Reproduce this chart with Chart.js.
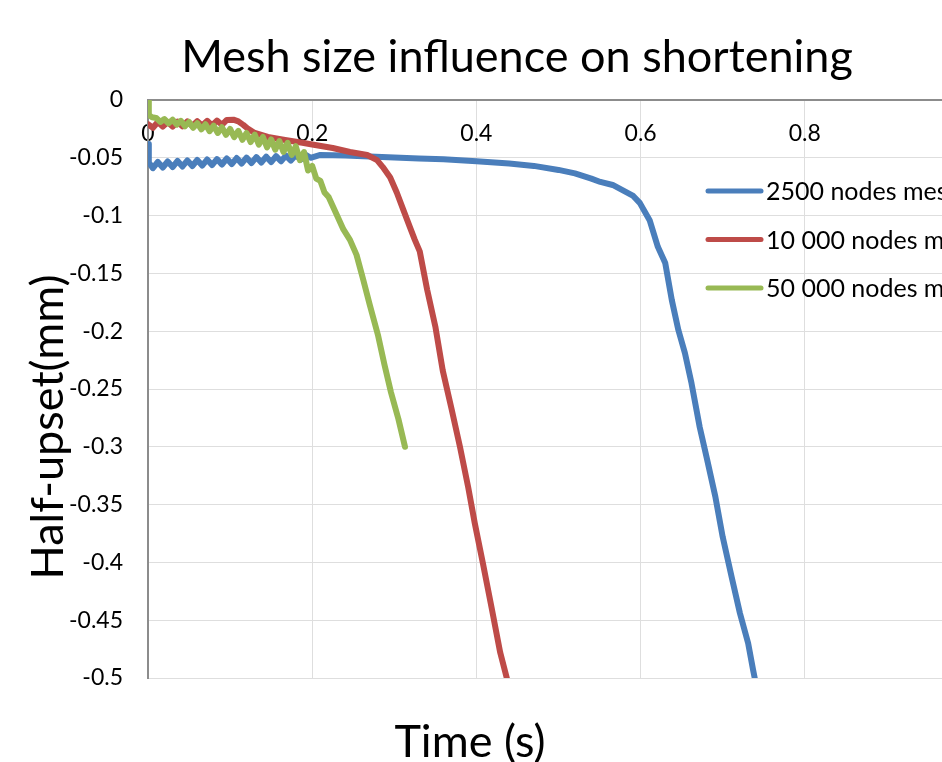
<!DOCTYPE html>
<html>
<head>
<meta charset="utf-8">
<title>Mesh size influence on shortening</title>
<script src="https://cdn.jsdelivr.net/npm/chart.js@4.4.1/dist/chart.umd.min.js"></script>
<style>
  html, body { margin: 0; padding: 0; background: #fff; overflow: hidden; }
  #wrap { width: 942px; height: 762px; overflow: hidden; }
</style>
</head>
<body>
<div id="wrap">
  <canvas id="meshChart" width="1040" height="762"></canvas>
</div>
<script>
// tick values of both axes
const xTicks = [0, 0.2, 0.4, 0.6, 0.8, 1];
const yTicks = [-0.5, -0.45, -0.4, -0.35, -0.3, -0.25, -0.2, -0.15, -0.1, -0.05, 0];

const seriesNames = ["2500 nodes mesh", "10 000 nodes mesh", "50 000 nodes mesh"];
const seriesColors = ["#4A7EBB", "#BE4B48", "#98B954"];

// [time (s), half-upset (mm)]
const mesh2500 = [
  [0, -0.038], [0.001, -0.054], [0.006, -0.059], [0.012, -0.0536], [0.018, -0.0584],
  [0.024, -0.0532], [0.030, -0.058], [0.036, -0.0527], [0.042, -0.0575], [0.048, -0.0523],
  [0.054, -0.0571], [0.060, -0.0519], [0.066, -0.0567], [0.072, -0.0515], [0.078, -0.0563],
  [0.084, -0.0511], [0.090, -0.0558], [0.096, -0.0506], [0.102, -0.0554], [0.108, -0.0502],
  [0.114, -0.055], [0.120, -0.0498], [0.126, -0.0546], [0.132, -0.0494], [0.138, -0.0541],
  [0.144, -0.049], [0.150, -0.0537], [0.156, -0.0485], [0.162, -0.053], [0.168, -0.0481],
  [0.174, -0.0524], [0.180, -0.0477], [0.186, -0.0515], [0.192, -0.0473], [0.198, -0.05],
  [0.21, -0.0475], [0.24, -0.048], [0.27, -0.0488], [0.30, -0.0497], [0.33, -0.0505],
  [0.36, -0.0513], [0.40, -0.053], [0.44, -0.055], [0.47, -0.057], [0.50, -0.0605],
  [0.52, -0.0635], [0.54, -0.068], [0.551, -0.0709], [0.566, -0.0735], [0.591, -0.083],
  [0.599, -0.089], [0.611, -0.104], [0.621, -0.127], [0.630, -0.141], [0.638, -0.173],
  [0.646, -0.199], [0.654, -0.219], [0.662, -0.245], [0.672, -0.283], [0.681, -0.311],
  [0.691, -0.343], [0.700, -0.378], [0.711, -0.413], [0.721, -0.444], [0.731, -0.47],
  [0.737, -0.493], [0.739, -0.5]
];

const mesh10000 = [
  [0, -0.021], [0.006, -0.024], [0.012, -0.019], [0.018, -0.023], [0.024, -0.019],
  [0.030, -0.023], [0.036, -0.0188], [0.042, -0.0228], [0.048, -0.0185], [0.054, -0.0225],
  [0.060, -0.0183], [0.066, -0.0222], [0.072, -0.018], [0.078, -0.022], [0.084, -0.0178],
  [0.090, -0.0215], [0.096, -0.0172], [0.104, -0.017], [0.110, -0.0185], [0.116, -0.0215],
  [0.121, -0.0245], [0.130, -0.0285], [0.146, -0.032], [0.167, -0.0346], [0.188, -0.037],
  [0.200, -0.0385], [0.225, -0.0415], [0.246, -0.045], [0.267, -0.0476], [0.279, -0.052],
  [0.286, -0.058], [0.295, -0.067], [0.303, -0.08], [0.311, -0.095], [0.319, -0.11],
  [0.325, -0.121], [0.331, -0.131], [0.340, -0.164], [0.350, -0.196], [0.359, -0.234],
  [0.370, -0.268], [0.380, -0.3], [0.390, -0.335], [0.398, -0.366], [0.408, -0.401],
  [0.419, -0.441], [0.429, -0.478], [0.437, -0.5]
];

const mesh50000 = [
  [0, 0], [0.001, -0.013], [0.005, -0.015], [0.010, -0.0155], [0.015, -0.019],
  [0.020, -0.0165], [0.025, -0.0202], [0.030, -0.017], [0.035, -0.0213], [0.040, -0.018],
  [0.045, -0.0227], [0.050, -0.019], [0.055, -0.024], [0.060, -0.02], [0.065, -0.0254],
  [0.070, -0.021], [0.075, -0.0269], [0.080, -0.0222], [0.085, -0.0285], [0.090, -0.0235],
  [0.095, -0.0302], [0.100, -0.025], [0.105, -0.0322], [0.110, -0.0267], [0.115, -0.0344],
  [0.120, -0.0285], [0.125, -0.0364], [0.130, -0.03], [0.135, -0.0386], [0.140, -0.032],
  [0.145, -0.041], [0.150, -0.034], [0.155, -0.043], [0.160, -0.0355], [0.165, -0.0449],
  [0.170, -0.037], [0.175, -0.0475], [0.180, -0.04], [0.185, -0.052], [0.190, -0.045],
  [0.195, -0.061], [0.200, -0.057], [0.205, -0.068], [0.210, -0.07], [0.215, -0.08],
  [0.220, -0.084], [0.230, -0.0995], [0.238, -0.112], [0.246, -0.121], [0.254, -0.134],
  [0.262, -0.155], [0.270, -0.177], [0.280, -0.203], [0.288, -0.229], [0.296, -0.253],
  [0.305, -0.276], [0.313, -0.3]
];

const seriesData = [mesh2500, mesh10000, mesh50000];

const FONT = "Lato";
Chart.defaults.font.family = FONT;
Chart.defaults.color = "#000";

const fmt = (v) => String(+v.toFixed(2));

// axis titles and the legend sit where Excel put them, so they are drawn here
const extrasPlugin = {
  id: "extras",
  afterDraw(chart) {
    const ctx = chart.ctx;
    ctx.save();
    ctx.fillStyle = "#000";
    ctx.textAlign = "center";
    ctx.textBaseline = "middle";
    ctx.font = "45px " + FONT;
    ctx.fillText("Time (s)", 470, 742);
    ctx.translate(48, 427);
    ctx.rotate(-Math.PI / 2);
    ctx.fillText("Half-upset(mm)", 0, 0);
    ctx.restore();

    ctx.save();
    ctx.font = "25px " + FONT;
    ctx.textAlign = "left";
    ctx.textBaseline = "middle";
    chart.data.datasets.forEach((ds, i) => {
      const y = 191 + i * 48.5;
      ctx.strokeStyle = ds.borderColor;
      ctx.lineWidth = 5;
      ctx.lineCap = "round";
      ctx.beginPath();
      ctx.moveTo(708, y);
      ctx.lineTo(761, y);
      ctx.stroke();
      ctx.fillStyle = "#000";
      ctx.fillText(ds.label, 766, y + 1);
    });
    ctx.restore();
  }
};

const ctx = document.getElementById("meshChart").getContext("2d");
new Chart(ctx, {
  type: "line",
  data: {
    datasets: seriesNames.map((name, i) => ({
      label: name,
      data: seriesData[i].map(([t, v]) => ({ x: t, y: v })),
      borderColor: seriesColors[i],
      backgroundColor: seriesColors[i],
      borderWidth: 6,
      borderJoinStyle: "round",
      borderCapStyle: "round",
      pointRadius: 0,
      tension: 0,
      fill: false,
      order: 3 - i,
    })),
  },
  options: {
    responsive: false,
    animation: false,
    layout: { padding: { left: 65, right: 71, top: 0, bottom: 84 } },
    plugins: {
      legend: { display: false },
      tooltip: { enabled: false },
      title: {
        display: true,
        text: "Mesh size influence on shortening",
        font: { size: 45, weight: "normal" },
        color: "#000",
        padding: { top: 30, bottom: 16 },
      },
    },
    scales: {
      x: {
        type: "linear",
        position: { y: 0 },
        min: 0,
        max: 1,
        afterBuildTicks: (s) => { s.ticks = xTicks.map((value) => ({ value })); },
        afterFit: (s) => { s.height = 0; },
        ticks: { font: { size: 23 }, padding: 20, maxRotation: 0, callback: fmt },
        grid: { color: "#dedede", lineWidth: 1, drawTicks: false },
        border: { color: "#8c8c8c", width: 2 },
      },
      y: {
        type: "linear",
        position: "left",
        min: -0.5,
        max: 0,
        afterBuildTicks: (s) => { s.ticks = yTicks.map((value) => ({ value })); },
        afterFit: (s) => { s.width = 83; },
        ticks: { font: { size: 23 }, padding: 25, callback: fmt },
        grid: { color: "#dedede", lineWidth: 1, drawTicks: false },
        border: { color: "#8c8c8c", width: 2 },
      },
    },
  },
  plugins: [extrasPlugin],
});
</script>
</body>
</html>
